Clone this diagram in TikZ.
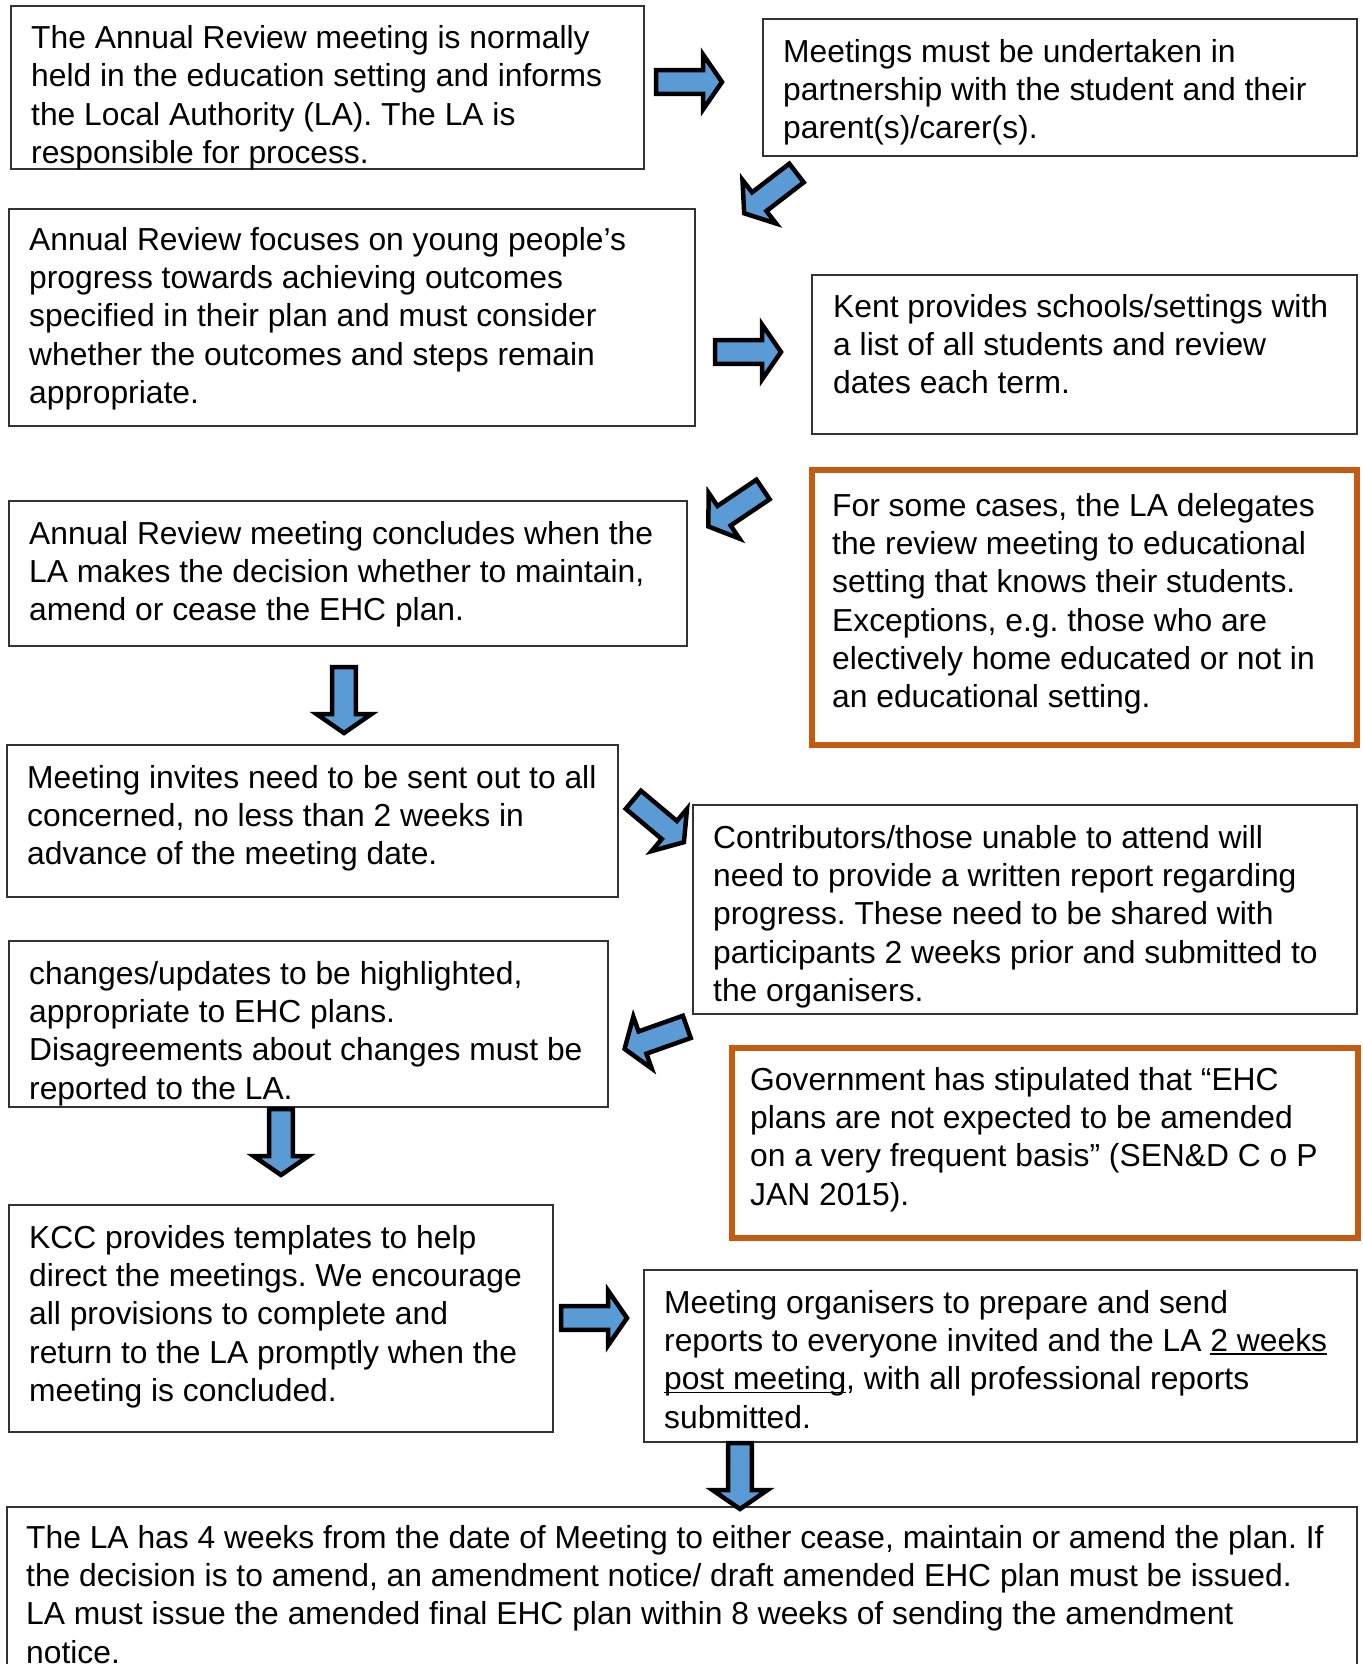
\documentclass[tikz,border=0pt]{standalone}
\usepackage{fontspec}
\setmainfont{Liberation Sans}
\usetikzlibrary{fit}
\definecolor{arrowblue}{HTML}{5B9BD5}
\definecolor{boxorange}{HTML}{C55A11}
\definecolor{boxline}{HTML}{333333}
\newcommand\ulwords[1]{\setbox0\hbox{#1}\rlap{\rule[-3.5pt]{\wd0}{1.6pt}}\box0}
\newcommand\blockarrow[3]{%
  \begin{scope}[shift={#2}, rotate=#3]
    \draw[arrowbody] (0,0) -- (-19,27.5) -- (-19,11.8) -- (-66,11.8) -- (-66,-11.8)
      -- (-19,-11.8) -- (-19,-27.5) -- cycle;
    \coordinate (#1) at (0,0);
  \end{scope}}
\tikzset{
  plainbox/.style={draw=boxline, line width=1.4pt, inner sep=0pt},
  orangebox/.style={draw=boxorange, line width=6pt, inner sep=0pt},
  txt/.style={anchor=north west, inner sep=0pt, align=left,
    font=\fontsize{31.8pt}{38.3pt}\selectfont\frenchspacing},
  arrowbody/.style={fill=arrowblue, draw=black, line width=4.5pt, line join=miter, miter limit=10}
}
\begin{document}
\begin{tikzpicture}[x=1pt, y=-1pt]
\useasboundingbox (0,0) rectangle (1362,1664);
\clip (0,0) rectangle (1362,1664);
\fill[white] (0,0) rectangle (1362,1664);

% boxes
\node[plainbox, fit={(11,6) (644,169)}] (b1) {};
\node[plainbox, fit={(763,19) (1357,156)}] (b2) {};
\node[plainbox, fit={(9,209) (695,426)}] (b3) {};
\node[plainbox, fit={(812,275) (1357,434)}] (b4) {};
\node[orangebox, fit={(812,470) (1357,745)}] (b5) {};
\node[plainbox, fit={(9,501) (687,646)}] (b6) {};
\node[plainbox, fit={(7,745) (618,897)}] (b7) {};
\node[plainbox, fit={(693,805) (1357,1014)}] (b8) {};
\node[plainbox, fit={(9,941) (608,1107)}] (b9) {};
\node[orangebox, fit={(731.5,1047.5) (1357.5,1237.5)}] (b10) {};
\node[plainbox, fit={(9,1205) (553,1432)}] (b11) {};
\node[plainbox, fit={(644,1270) (1357,1442)}] (b12) {};
\node[plainbox, fit={(7,1507) (1357,1720)}] (b13) {};

% texts
\node[txt] (t1) at (31,22.5) {\rule{0pt}{26pt}The Annual Review meeting is normally\\held in the education setting and informs\\the Local Authority (LA). The LA is\\responsible for process.};
\node[txt] (t2) at (783,36) {\rule{0pt}{26pt}Meetings must be undertaken in\\partnership with the student and their\\parent(s)/carer(s).};
\node[txt] (t3) at (29,224) {\rule{0pt}{26pt}Annual Review focuses on young people’s\\progress towards achieving outcomes\\specified in their plan and must consider\\whether the outcomes and steps remain\\appropriate.};
\node[txt] (t4) at (833,291) {\rule{0pt}{26pt}Kent provides schools/settings with\\a list of all students and review\\dates each term.};
\node[txt] (t5) at (832,490) {\rule{0pt}{26pt}For some cases, the LA delegates\\the review meeting to educational\\setting that knows their students.\\Exceptions, e.g. those who are\\electively home educated or not in\\an educational setting.};
\node[txt] (t6) at (29,518) {\rule{0pt}{26pt}Annual Review meeting concludes when the\\LA makes the decision whether to maintain,\\amend or cease the EHC plan.};
\node[txt] (t7) at (27,762) {\rule{0pt}{26pt}Meeting invites need to be sent out to all\\concerned, no less than 2 weeks in\\advance of the meeting date.};
\node[txt] (t8) at (713,822) {\rule{0pt}{26pt}Contributors/those unable to attend will\\need to provide a written report regarding\\progress. These need to be shared with\\participants 2 weeks prior and submitted to\\the organisers.};
\node[txt] (t9) at (29,958) {\rule{0pt}{26pt}changes/updates to be highlighted,\\appropriate to EHC plans.\\Disagreements about changes must be\\reported to the LA.};
\node[txt] (t10) at (750,1064) {\rule{0pt}{26pt}Government has stipulated that “EHC\\plans are not expected to be amended\\on a very frequent basis” (SEN\&D C o P\\JAN 2015).};
\node[txt] (t11) at (29,1222) {\rule{0pt}{26pt}KCC provides templates to help\\direct the meetings. We encourage\\all provisions to complete and\\return to the LA promptly when the\\meeting is concluded.};
\node[txt] (t12) at (664,1287) {\rule{0pt}{26pt}Meeting organisers to prepare and send\\reports to everyone invited and the LA \ulwords{2 weeks}\\\ulwords{post meeting}, with all professional reports\\submitted.};
\node[txt] (t13) at (26,1522) {\rule{0pt}{26pt}The LA has 4 weeks from the date of Meeting to either cease, maintain or amend the plan. If\\the decision is to amend, an amendment notice/ draft amended EHC plan must be issued.\\LA must issue the amended final EHC plan within 8 weeks of sending the amendment\\notice.};

% block arrows
\blockarrow{a1}{(722,82)}{0}
\blockarrow{a2}{(744.2,213.3)}{217.6}
\blockarrow{a3}{(781,352)}{0}
\blockarrow{a4}{(708.3,526.4)}{214}
\blockarrow{a5}{(344,733)}{-90}
\blockarrow{a6}{(683.9,842.2)}{-40}
\blockarrow{a7}{(624.6,1048.9)}{199.5}
\blockarrow{a8}{(281,1175)}{-90}
\blockarrow{a9}{(627,1318)}{0}
\blockarrow{a10}{(740,1509)}{-90}
\end{tikzpicture}
\end{document}
